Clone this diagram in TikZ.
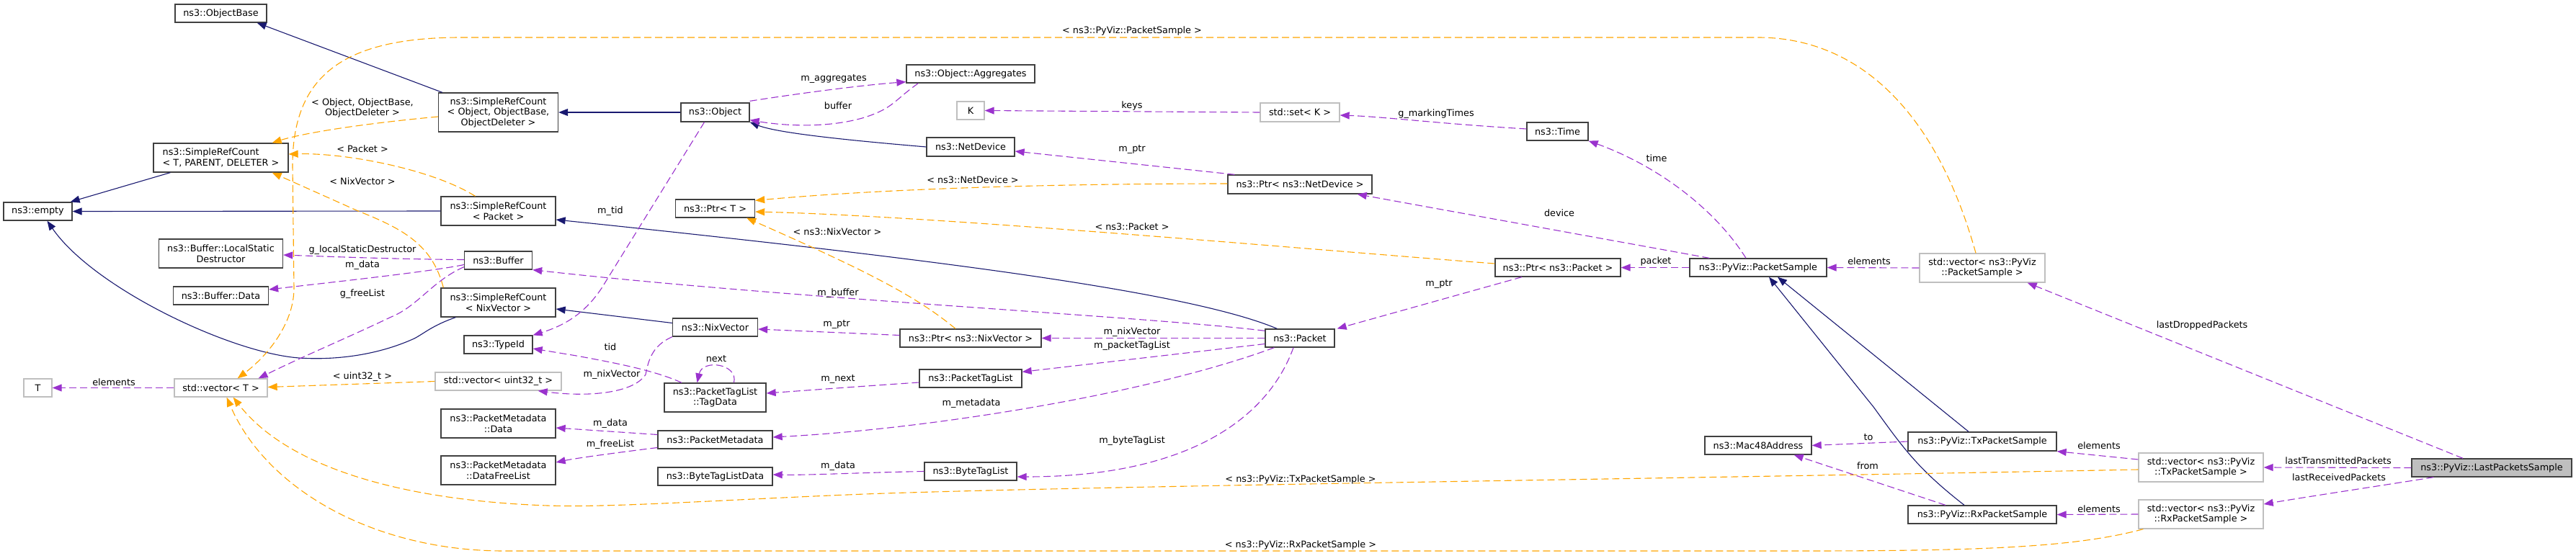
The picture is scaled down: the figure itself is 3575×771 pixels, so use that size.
\documentclass[tikz,border=0pt]{standalone}
\usepackage{fontspec}
\setmainfont{DejaVu Sans}
\usetikzlibrary{arrows.meta}
\definecolor{inhc}{HTML}{191970}
\definecolor{usec}{HTML}{9A32CD}
\definecolor{tmplc}{HTML}{FFA500}
\definecolor{boxc}{HTML}{404040}
\definecolor{grayc}{HTML}{BFBFBF}
\definecolor{lpsfill}{HTML}{BFBFBF}
\newcommand\fs{\fontsize{12.8}{14.5}\selectfont}
\tikzset{
 box/.style={draw=boxc, line width=1.3pt, fill=white, inner sep=0pt, align=center, font=\fs},
 gbox/.style={box, draw=grayc},
 inh/.style={draw=inhc, line width=1.1pt, -{Triangle[length=13pt,width=10pt]}},
 use/.style={draw=usec, line width=1.1pt, dash pattern=on 10pt off 5pt, -{Triangle[length=13pt,width=10pt]}},
 tmpl/.style={draw=tmplc, line width=1.1pt, dash pattern=on 10pt off 5pt, -{Triangle[length=13pt,width=10pt]}},
 lab/.style={font=\fs, inner sep=0pt, align=center},
}
\begin{document}
\begin{tikzpicture}[x=1pt,y=-1pt]
\useasboundingbox (0,0) rectangle (3575,771);
% nodes
\node[box, minimum width=127, minimum height=25] (objbase) at (306.5,18.5) {ns3::ObjectBase};
\node[box, minimum width=187, minimum height=40, align=left] (srcT) at (306.5,219) {ns3::SimpleRefCount\\< T, PARENT, DELETER >};
\node[box, minimum width=95, minimum height=25] (empty) at (52.5,293.5) {ns3::empty};
\node[box, minimum width=172, minimum height=40] (lsd) at (306.5,352) {ns3::Buffer::LocalStatic\\Destructor};
\node[box, minimum width=132, minimum height=25] (bufdata) at (306.5,410.5) {ns3::Buffer::Data};
\node[gbox, minimum width=39, minimum height=25] (T) at (52.5,538.5) {T};
\node[gbox, minimum width=129, minimum height=25] (vecT) at (306.5,538.5) {std::vector< T >};
\node[box, minimum width=166, minimum height=54] (srcO) at (691.5,156) {ns3::SimpleRefCount\\< Object, ObjectBase,\\ObjectDeleter >};
\node[box, minimum width=95, minimum height=26] (object) at (992.5,156) {ns3::Object};
\node[box, minimum width=159, minimum height=40] (srcP) at (691.5,293) {ns3::SimpleRefCount\\< Packet >};
\node[box, minimum width=110, minimum height=25] (ptrT) at (992.5,289.5) {ns3::Ptr< T >};
\node[box, minimum width=94, minimum height=25] (buffer) at (691.5,361.5) {ns3::Buffer};
\node[box, minimum width=159, minimum height=40] (srcN) at (691.5,420) {ns3::SimpleRefCount\\< NixVector >};
\node[box, minimum width=95, minimum height=25] (typeid) at (691.5,478.5) {ns3::TypeId};
\node[gbox, minimum width=175, minimum height=25] (vecU) at (691.5,529.5) {std::vector< uint32\_t >};
\node[box, minimum width=159, minimum height=40] (pmData) at (691.5,588) {ns3::PacketMetadata\\::Data};
\node[box, minimum width=159, minimum height=40] (pmFree) at (691.5,653) {ns3::PacketMetadata\\::DataFreeList};
\node[box, minimum width=118, minimum height=25] (nix) at (992.5,454.5) {ns3::NixVector};
\node[box, minimum width=141, minimum height=40] (tagData) at (992.5,552) {ns3::PacketTagList\\::TagData};
\node[box, minimum width=159, minimum height=25] (pm) at (992.5,610.5) {ns3::PacketMetadata};
\node[box, minimum width=159, minimum height=25] (btld) at (992.5,661.5) {ns3::ByteTagListData};
\node[box, minimum width=178, minimum height=25] (aggr) at (1347,102.5) {ns3::Object::Aggregates};
\node[gbox, minimum width=38, minimum height=25] (K) at (1347,153.5) {K};
\node[gbox, minimum width=110, minimum height=26] (setK) at (1804,156) {std::set< K >};
\node[box, minimum width=122, minimum height=26] (netdev) at (1347,204) {ns3::NetDevice};
\node[box, minimum width=200, minimum height=26] (ptrND) at (1804,256) {ns3::Ptr< ns3::NetDevice >};
\node[box, minimum width=196, minimum height=25] (ptrNix) at (1347,469.5) {ns3::Ptr< ns3::NixVector >};
\node[box, minimum width=142, minimum height=25] (ptl) at (1347,525.5) {ns3::PacketTagList};
\node[box, minimum width=128, minimum height=25] (btl) at (1347,654.5) {ns3::ByteTagList};
\node[box, minimum width=96, minimum height=25] (packet) at (1804,469.5) {ns3::Packet};
\node[box, minimum width=85, minimum height=25] (time) at (2161.5,182.5) {ns3::Time};
\node[box, minimum width=174, minimum height=25] (ptrPkt) at (2162,371.5) {ns3::Ptr< ns3::Packet >};
\node[box, minimum width=190, minimum height=25] (ps) at (2440,371.5) {ns3::PyViz::PacketSample};
\node[box, minimum width=148, minimum height=25] (mac) at (2440,618.5) {ns3::Mac48Address};
\node[gbox, minimum width=174, minimum height=40] (vecPS) at (2751,372) {std::vector< ns3::PyViz\\::PacketSample >};
\node[box, minimum width=206, minimum height=26] (tx) at (2751,613) {ns3::PyViz::TxPacketSample};
\node[box, minimum width=206, minimum height=25] (rx) at (2751,714.5) {ns3::PyViz::RxPacketSample};
\node[gbox, minimum width=173, minimum height=40] (vecTx) at (3054.5,649) {std::vector< ns3::PyViz\\::TxPacketSample >};
\node[gbox, minimum width=173, minimum height=40] (vecRx) at (3054.5,714) {std::vector< ns3::PyViz\\::RxPacketSample >};
\node[box, fill=lpsfill, minimum width=222, minimum height=25] (lps) at (3458,649.5) {ns3::PyViz::LastPacketsSample};
% inheritance
\draw[inh] ([xshift=6]srcO.north west) -- ([xshift=-14]objbase.south east);
\draw[inh] ([xshift=24]srcT.south west) -- ([xshift=-3]empty.north east);
\draw[inh] (srcP.west) -- (empty.east);
\draw[inh] ([xshift=21]srcN.south west) .. controls (600,452) and (590,462) .. (575,470) .. controls (520,495) and (460,500) .. (415,497) .. controls (320,490) and (130,400) .. ([xshift=13]empty.south);
\draw[inh] (object.west) -- (srcO.east);
\draw[inh] ([xshift=17]packet.north west) .. controls (1650,405) and (1300,360) .. ([yshift=-12]srcP.east);
\draw[inh] (netdev.west) .. controls (1180,195) and (1080,185) .. (object.south east);
\draw[inh] ([yshift=6]nix.west) -- ([yshift=-9]srcN.east);
\draw[inh] ([xshift=-19]tx.north) -- ([xshift=27]ps.south);
\draw[inh] ([xshift=-25]rx.north) .. controls (2660,650) and (2640,620) .. (2600,565) -- ([xshift=15]ps.south);
% templates
\draw[tmpl] ([yshift=-6]srcO.west) .. controls (500,172) and (420,185) .. ([xshift=-23]srcT.north east);
\draw[tmpl] ([xshift=-32]srcP.north) .. controls (600,235) and (480,212) .. ([yshift=5]srcT.east);
\draw[tmpl] ([xshift=4]srcN.north west) .. controls (600,340) and (560,318) .. (497,293) -- ([xshift=-23]srcT.south east);
\draw[tmpl] (vecU.west) -- ([yshift=1]vecT.east);
\draw[tmpl] ([yshift=1]ptrND.west) .. controls (1500,255) and (1250,260) .. ([yshift=-2]ptrT.north east);
\draw[tmpl] ([yshift=5.5]ptrPkt.west) .. controls (1800,345) and (1300,300) .. ([yshift=-4.5]ptrT.east);
\draw[tmpl] ([xshift=-21]ptrNix.north) .. controls (1270,410) and (1200,375) .. ([xshift=-12]ptrT.south east);
\draw[tmpl] ([xshift=-9]vecPS.north) .. controls (2680,130) and (2560,52) .. (2440,52) -- (640,52) .. controls (470,52) and (406,110) .. (406,230) -- (408,400) .. controls (408,450) and (370,495) .. ([xshift=-42]vecT.north east);
\draw[tmpl] ([yshift=-3]vecTx.west) .. controls (2300,665) and (1500,675) .. (1200,686) .. controls (1000,694) and (850,705) .. (760,702) .. controls (560,695) and (400,650) .. ([xshift=-48]vecT.south east);
\draw[tmpl] ([xshift=7]vecRx.south west) .. controls (2880,760) and (2750,765) .. (2500,765) -- (700,765) .. controls (520,765) and (370,680) .. ([xshift=-57]vecT.south east);
% usage
\draw[use] ([yshift=2]object.north east) .. controls (1120,128) and (1200,118) .. ([yshift=2]aggr.south west);
\draw[use] ([xshift=17]aggr.south west) .. controls (1240,140) and (1240,150) .. (1200,163) .. controls (1150,178) and (1090,175) .. ([yshift=3]object.south east);
\draw[use] ([xshift=-15]object.south) -- (835,400) .. controls (815,430) and (790,450) .. (typeid.north east);
\draw[use] ([yshift=1]buffer.west) .. controls (550,360) and (450,356) .. ([yshift=-2]lsd.east);
\draw[use] ([yshift=-6]buffer.west) .. controls (600,377) and (450,393) .. ([yshift=8.5]bufdata.east);
\draw[use] ([yshift=4]buffer.south west) .. controls (600,390) and (580,425) .. (543,440) .. controls (480,470) and (420,495) .. ([xshift=-13]vecT.north east);
\draw[use] ([yshift=-3]packet.north west) .. controls (1600,440) and (1100,415) .. (buffer.south east);
\draw[use] ([yshift=4]ptrNix.west) -- ([yshift=-2.5]nix.east);
\draw[use] (packet.west) -- (ptrNix.east);
\draw[use] ([yshift=-8]packet.west) -- ([yshift=-4]ptl.north east);
\draw[use] ([yshift=-5.5]ptl.west) .. controls (1200,536) and (1120,542) .. ([yshift=6]tagData.east);
\draw[use] ([xshift=26]tagData.north) .. controls (1025,505) and (975,498) .. ([xshift=-25]tagData.north);
\draw[use] ([xshift=-46.5]tagData.north) .. controls (910,515) and (860,505) .. (800,494) -- ([yshift=-5.5]typeid.east);
\draw[use] (nix.south west) .. controls (905,480) and (900,500) .. (896,520) .. controls (880,545) and (820,552) .. ([xshift=-33]vecU.south east);
\draw[use] ([xshift=13]packet.south west) .. controls (1600,545) and (1300,595) .. ([yshift=3.5]pm.east);
\draw[use] ([yshift=7]pm.west) -- ([yshift=-6]pmData.east);
\draw[use] ([yshift=-11]pm.west) .. controls (860,628) and (800,636) .. ([yshift=11]pmFree.east);
\draw[use] (btl.west) .. controls (1200,656) and (1120,660) .. ([yshift=2.5]btld.east);
\draw[use] ([xshift=-9]packet.south) .. controls (1760,580) and (1650,662) .. ([yshift=-7.5]btl.east);
\draw[use] ([xshift=10]ptrND.north west) -- ([yshift=-6]netdev.east);
\draw[use] (setK.west) -- (K.east);
\draw[use] ([yshift=3.5]time.west) .. controls (2000,172) and (1920,162) .. ([yshift=-4]setK.east);
\draw[use] ([xshift=-17]ps.north) .. controls (2380,290) and (2300,230) .. (time.south east);
\draw[use] ([xshift=28]ps.north west) -- ([xshift=-21]ptrND.south east);
\draw[use] (ps.west) -- (ptrPkt.east);
\draw[use] ([xshift=-50]ptrPkt.south) -- ([xshift=3]packet.north east);
\draw[use] (vecPS.west) -- (ps.east);
\draw[use] ([xshift=-40]lps.north) -- ([xshift=-25]vecPS.south east);
\draw[use] (lps.west) -- (vecTx.east);
\draw[use] ([xshift=31]lps.south west) .. controls (3300,675) and (3200,690) .. ([yshift=14]vecRx.east);
\draw[use] ([yshift=11]vecTx.west) -- (tx.south east);
\draw[use] (vecRx.west) -- (rx.east);
\draw[use] (tx.west) -- (mac.east);
\draw[use] ([xshift=-51]rx.north) -- ([xshift=-25]mac.south east);
\draw[use] (vecT.west) -- (T.east);
% labels
\node[lab] (l1) at (503,150) {< Object, ObjectBase,\\ObjectDeleter >};
\node[lab] (l2) at (503,207) {< Packet >};
\node[lab] (l3) at (503,252) {< NixVector >};
\node[lab] (l4) at (503,523) {< uint32\_t >};
\node[lab] (l5) at (1350,250) {< ns3::NetDevice >};
\node[lab] (l6) at (1571,315) {< ns3::Packet >};
\node[lab] (l7) at (1162,322) {< ns3::NixVector >};
\node[lab] (l8) at (1571,43) {< ns3::PyViz::PacketSample >};
\node[lab] (l9) at (1805,666) {< ns3::PyViz::TxPacketSample >};
\node[lab] (l10) at (1805,757) {< ns3::PyViz::RxPacketSample >};
\node[lab] (l11) at (1157,110) {m\_aggregates};
\node[lab] (l12) at (1163,147) {buffer};
\node[lab] (l13) at (847,293) {m\_tid};
\node[lab] (l14) at (503,347) {g\_localStaticDestructor};
\node[lab] (l15) at (503,368) {m\_data};
\node[lab] (l16) at (503,408) {g\_freeList};
\node[lab] (l17) at (1163,407) {m\_buffer};
\node[lab] (l18) at (1161,451) {m\_ptr};
\node[lab] (l19) at (1571,461) {m\_nixVector};
\node[lab] (l20) at (1571,480) {m\_packetTagList};
\node[lab] (l21) at (1163,527) {m\_next};
\node[lab] (l22) at (994,498) {next};
\node[lab] (l23) at (847,482) {tid};
\node[lab] (l24) at (849,520) {m\_nixVector};
\node[lab] (l25) at (1348,560) {m\_metadata};
\node[lab] (l26) at (847,588) {m\_data};
\node[lab] (l27) at (847,617) {m\_freeList};
\node[lab] (l28) at (1163,647) {m\_data};
\node[lab] (l29) at (1571,612) {m\_byteTagList};
\node[lab] (l30) at (1571,208) {m\_ptr};
\node[lab] (l31) at (1571,147) {keys};
\node[lab] (l32) at (1993,158) {g\_markingTimes};
\node[lab] (l33) at (2299,220) {time};
\node[lab] (l34) at (2164,296) {device};
\node[lab] (l35) at (2298,363) {packet};
\node[lab] (l36) at (1997,395) {m\_ptr};
\node[lab] (l37) at (2594,363) {elements};
\node[lab] (l38) at (3056,452) {lastDroppedPackets};
\node[lab] (l39) at (3245,640) {lastTransmittedPackets};
\node[lab] (l40) at (3246,663) {lastReceivedPackets};
\node[lab] (l41) at (2913,619) {elements};
\node[lab] (l42) at (2913,707) {elements};
\node[lab] (l43) at (2593,607) {to};
\node[lab] (l44) at (2592,647) {from};
\node[lab] (l45) at (158,531) {elements};
\end{tikzpicture}
\end{document}
